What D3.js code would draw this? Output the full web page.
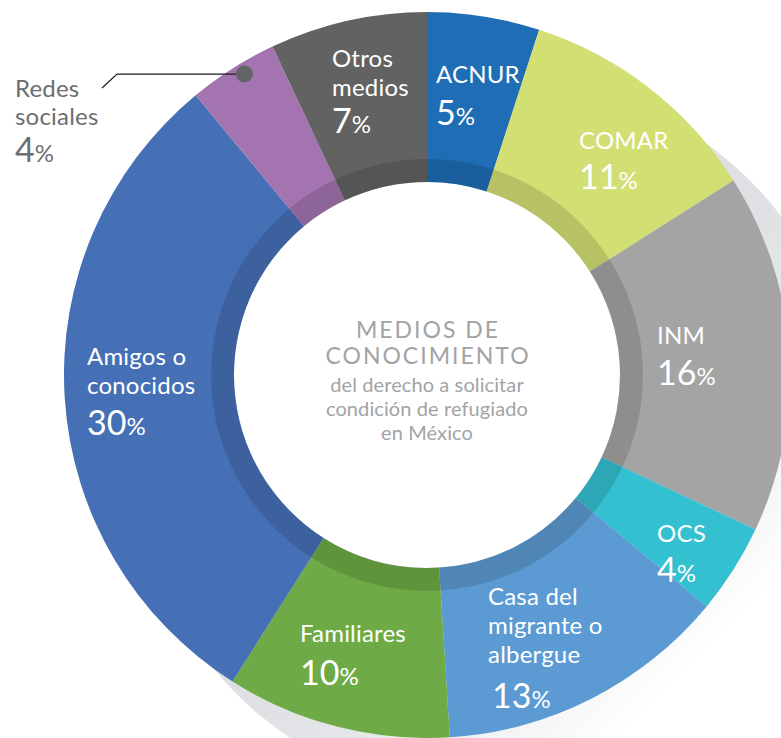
<!DOCTYPE html>
<html>
<head>
<meta charset="utf-8">
<script src="https://cdn.jsdelivr.net/npm/d3@7"></script>
<style>
  html, body { margin: 0; padding: 0; background: #ffffff; }
  svg { display: block; }
</style>
</head>
<body>
<div id="chart"></div>
<script>
// Medios de conocimiento del derecho a solicitar condición de refugiado
const categories = ["ACNUR", "COMAR", "INM", "OCS", "Casa del migrante o albergue",
                    "Familiares", "Amigos o conocidos", "Redes sociales", "Otros medios"];
const values = [5, 11, 16, 4, 13, 10, 30, 4, 7];
const labelLines = [["ACNUR"], ["COMAR"], ["INM"], ["OCS"], ["Casa del", "migrante o", "albergue"],
                    ["Familiares"], ["Amigos o", "conocidos"], ["Redes", "sociales"], ["Otros", "medios"]];
const colors = ["#1f6db5", "#d2df73", "#a4a4a4", "#33c0d1", "#5b9ad2",
                "#6eab46", "#4670b6", "#a474b0", "#616261"];
const centerTitle = ["MEDIOS DE", "CONOCIMIENTO"];
const centerSub = ["del derecho a solicitar", "condición de refugiado", "en México"];

// Layout
const W = 781, H = 738;
const cx = 427, cy = 375;
const outerR = 363, innerR = 193, bandR = 216;

// Text placement per category: x, baselines of the name lines, baseline of the value
const labelPos = {
  "ACNUR": { x: 436, lines: [83], num: 125 },
  "COMAR": { x: 579, lines: [149], num: 189 },
  "INM": { x: 657, lines: [344], num: 385 },
  "OCS": { x: 657, lines: [542], num: 582 },
  "Casa del migrante o albergue": { x: 488, lines: [605, 634, 663], num: 708, numX: 492 },
  "Familiares": { x: 300, lines: [642], num: 685 },
  "Amigos o conocidos": { x: 87, lines: [365, 394], num: 435 },
  "Redes sociales": { x: 15, lines: [97, 125], num: 162, outside: true },
  "Otros medios": { x: 332, lines: [67, 96], num: 133 }
};

const FONT = "Lato, 'Noto Sans', sans-serif";

const svg = d3.select("#chart").append("svg")
  .attr("width", W).attr("height", H)
  .attr("viewBox", `0 0 ${W} ${H}`);

// Long soft shadow behind the ring, fading toward the lower right
const defs = svg.append("defs");
const grad = defs.append("linearGradient")
  .attr("id", "shadowGrad")
  .attr("gradientUnits", "userSpaceOnUse")
  .attr("x1", 480).attr("y1", 480).attr("x2", 680).attr("y2", 680);
grad.append("stop").attr("offset", 0).attr("stop-color", "#dfe0e3");
grad.append("stop").attr("offset", 0.35).attr("stop-color", "#e6e7e9");
grad.append("stop").attr("offset", 1).attr("stop-color", "#ffffff");

svg.append("circle")
  .attr("cx", cx + 66).attr("cy", cy + 62).attr("r", outerR)
  .attr("fill", "url(#shadowGrad)");

const g = svg.append("g").attr("transform", `translate(${cx},${cy})`);

const data = categories.map((c, i) => ({ name: c, value: values[i], color: colors[i], lines: labelLines[i] }));

const pie = d3.pie().value(d => d.value).sort(null).startAngle(0).endAngle(2 * Math.PI);
const arcs = pie(data);

const arc = d3.arc().innerRadius(innerR).outerRadius(outerR);

// White hole of the donut
g.append("circle").attr("r", innerR).attr("fill", "#ffffff");

g.selectAll("path.slice")
  .data(arcs)
  .join("path")
  .attr("class", "slice")
  .attr("d", arc)
  .attr("fill", d => d.data.color);

// Darker inner band over every slice
g.append("path")
  .attr("d", d3.arc().innerRadius(innerR).outerRadius(bandR).startAngle(0).endAngle(2 * Math.PI)())
  .attr("fill", "#000000")
  .attr("fill-opacity", 0.13);

// Category labels
arcs.forEach(a => {
  const p = labelPos[a.data.name];
  const fill = p.outside ? "#6d6e71" : "#ffffff";
  const t = svg.append("text")
    .attr("font-family", FONT)
    .attr("fill", fill);
  a.data.lines.forEach((ln, i) => {
    t.append("tspan")
      .attr("x", p.x).attr("y", p.lines[i])
      .attr("font-size", 24)
      .attr("letter-spacing", 0.2)
      .text(ln);
  });
  const n = svg.append("text")
    .attr("font-family", FONT)
    .attr("fill", fill)
    .attr("x", p.numX || p.x).attr("y", p.num);
  n.append("tspan").attr("font-size", 34).text(a.data.value);
  n.append("tspan").attr("font-size", 24).text("%");
});

// Leader from the outside label to its slice
const redes = arcs.find(a => a.data.name === "Redes sociales");
const midA = (redes.startAngle + redes.endAngle) / 2 + 0.02;
const dotR = outerR - 11;
const dotX = cx + dotR * Math.sin(midA);
const dotY = cy - dotR * Math.cos(midA);
svg.append("polyline")
  .attr("points", `102,88 117,${dotY} ${dotX},${dotY}`)
  .attr("fill", "none")
  .attr("stroke", "#1a1a1a")
  .attr("stroke-width", 1.2);
svg.append("circle")
  .attr("cx", dotX).attr("cy", dotY).attr("r", 8.5)
  .attr("fill", "#636466");

// Center title
const ct = svg.append("text")
  .attr("font-family", FONT)
  .attr("fill", "#a2a3a5")
  .attr("text-anchor", "middle");
centerTitle.forEach((ln, i) => {
  ct.append("tspan").attr("x", cx + 1).attr("y", 338 + i * 26)
    .attr("font-size", 23).attr("letter-spacing", 2.0).text(ln);
});
centerSub.forEach((ln, i) => {
  ct.append("tspan").attr("x", cx).attr("y", 392 + i * 24)
    .attr("font-size", 20).attr("letter-spacing", 0.1).text(ln);
});
</script>
</body>
</html>
